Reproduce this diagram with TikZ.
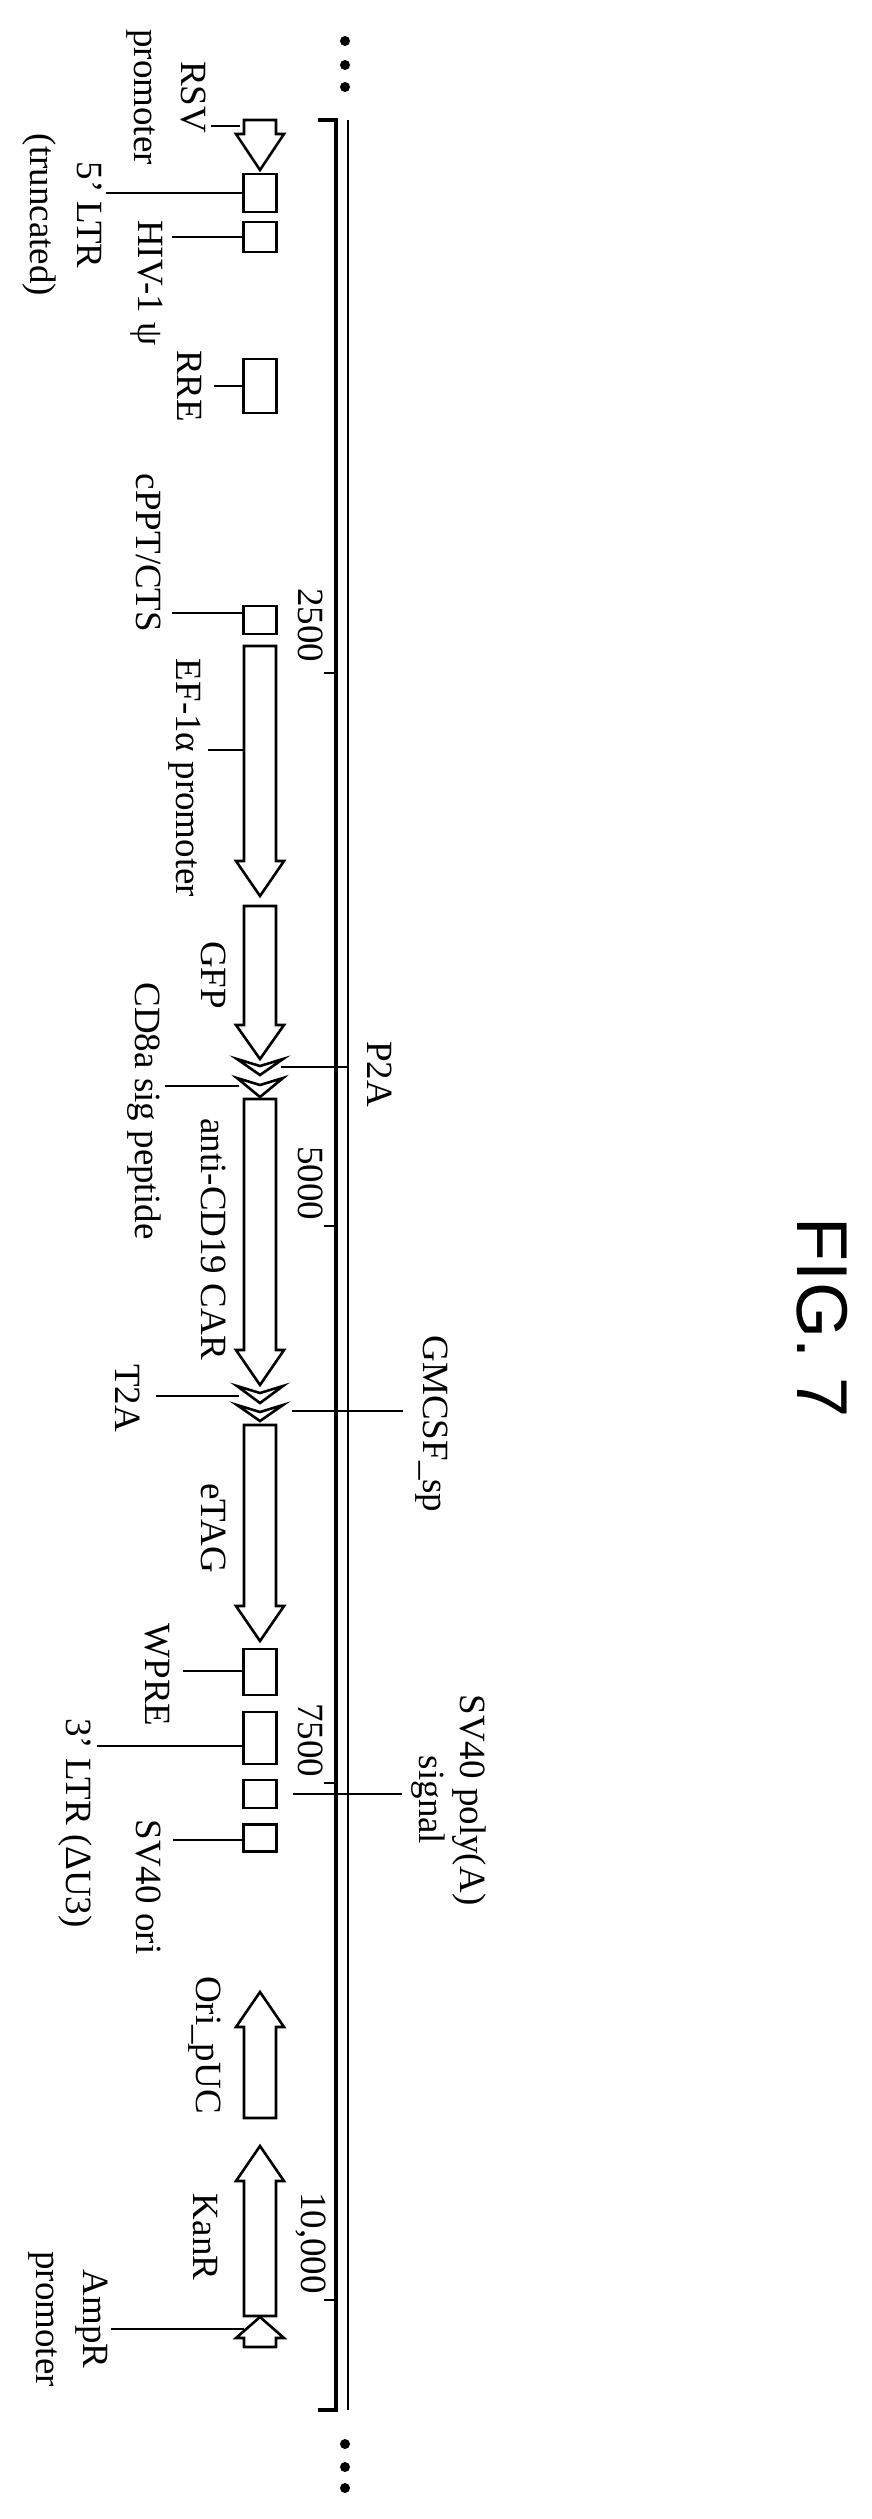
\documentclass[tikz,border=0pt]{standalone}
\usepackage{fontspec}
\setmainfont{Liberation Serif}
\newfontfamily\figfont{Liberation Sans}
\begin{document}
\begin{tikzpicture}[x=1pt,y=-1pt,
  lbl/.style={rotate=-90,align=center,inner sep=0,font=\fontsize{37}{47}\selectfont},
  fea/.style={draw,line width=2.6pt,fill=white,line join=miter},
  box/.style={draw,line width=2.6pt,inner sep=0,minimum width=33pt},
  lead/.style={line width=2.4pt},
  tick/.style={line width=2.4pt}]
\useasboundingbox (0,0) rectangle (871,2519);
\newcommand{\mydarrow}[3]{\draw[fea] (244,#1)--(276,#1)--(276,#2)--(284,#2)--(260,#3)--(236,#2)--(244,#2)--cycle;}
\newcommand{\myuarrow}[3]{\draw[fea] (244,#1)--(276,#1)--(276,#2)--(284,#2)--(260,#3)--(236,#2)--(244,#2)--cycle;}
\newcommand{\mychev}[2]{\draw[fea] (237,#1)--(260,#1+7)--(283,#1)--(260,#2)--cycle;}
% dots
\foreach \yy in {41,65,87,2444,2467,2488} \fill (345,\yy) circle (5);
% main line
\draw[line width=4.5pt] (318,120) -- (336,120) -- (336,2410) -- (318,2410);
\draw[line width=2.6pt] (348,120) -- (348,2410);
% ticks
\foreach \yy/\tx in {673/2500,1226/5000,1783/7500,2300/{10,000}} {
  \draw[tick] (324,\yy) -- (336,\yy);
}
\node[lbl] (t1) at (311,625) {2500};
\node[lbl] (t2) at (311,1183) {5000};
\node[lbl] (t3) at (311,1740) {7500};
\node[lbl] (t4) at (311,2243) {10,000};
% features
\mydarrow{120}{134}{170}
\coordinate (rsv) at (240,126);
\node[box,minimum height=38pt] (ltr5) at (260,193) {};
\node[box,minimum height=30pt] (psi) at (260,237) {};
\node[box,minimum height=54pt] (rre) at (260,386) {};
\node[box,minimum height=28pt] (cppt) at (260,620) {};
\mydarrow{646}{861}{896}
\coordinate (ef) at (244,750);
\mydarrow{906}{1025}{1059}
\mychev{1059}{1075}
\mychev{1078}{1097}
\mydarrow{1099}{1350}{1385}
\mychev{1386}{1403}
\mychev{1405}{1421}
\mydarrow{1425}{1606}{1641}
\node[box,minimum height=46pt] (wpre) at (260,1672) {};
\node[box,minimum height=52pt] (ltr3) at (260,1738) {};
\node[box,minimum height=28pt] (pa) at (260,1794) {};
\node[box,minimum height=27pt] (ori) at (260,1838) {};
\myuarrow{2118}{2027}{1992}
\myuarrow{2316}{2181}{2146}
\myuarrow{2347}{2338}{2317}
% leaders
\coordinate (rsvL) at (211,126);
\draw[lead] (rsv) -- (rsvL);
\coordinate (ltr5L) at (106,193);
\draw[lead] (ltr5.west) -- (ltr5L);
\coordinate (psiL) at (172,237);
\draw[lead] (psi.west) -- (psiL);
\coordinate (rreL) at (214,386);
\draw[lead] (rre.west) -- (rreL);
\coordinate (cpptL) at (172,613);
\draw[lead] (cppt.west |- cpptL) -- (cpptL);
\coordinate (efL) at (208,750);
\draw[lead] (ef) -- (efL);
\coordinate (p2aA) at (281,1067); \coordinate (p2aB) at (347,1067);
\draw[lead] (p2aA) -- (p2aB);
\coordinate (cd8A) at (239,1086); \coordinate (cd8B) at (165,1086);
\draw[lead] (cd8A) -- (cd8B);
\coordinate (t2aA) at (239,1396); \coordinate (t2aB) at (156,1396);
\draw[lead] (t2aA) -- (t2aB);
\coordinate (gmA) at (292,1411); \coordinate (gmB) at (403,1411);
\draw[lead] (gmA) -- (gmB);
\coordinate (wpreL) at (183,1671);
\draw[lead] (wpre.west |- wpreL) -- (wpreL);
\coordinate (ltr3L) at (97,1746);
\draw[lead] (ltr3.west |- ltr3L) -- (ltr3L);
\coordinate (paA) at (293,1794); \coordinate (paB) at (402,1794);
\draw[lead] (paA) -- (paB);
\coordinate (oriL) at (173,1840);
\draw[lead] (ori.west |- oriL) -- (oriL);
\coordinate (ampA) at (244,2329); \coordinate (ampB) at (111,2329);
\draw[lead] (ampA) -- (ampB);
% labels
\node[lbl] (l1) at (166,97) {RSV\\promoter};
\node[lbl] (l2) at (62,215) {5’ LTR\\(truncated)};
\node[lbl] (l3) at (147,283) {HIV-1 ψ};
\node[lbl] (l4) at (190,386) {RRE};
\node[lbl] (l5) at (149,553) {cPPT/CTS};
\node[lbl] (l6) at (185,778) {EF-1α promoter};
\node[lbl] (l7) at (214,975) {GFP};
\node[lbl] (l8) at (380,1074) {P2A};
\node[lbl] (l9) at (144,1111) {CD8a sig peptide};
\node[lbl] (l10) at (214,1239) {anti-CD19 CAR};
\node[lbl] (l11) at (432,1424) {GMCSF\_sp};
\node[lbl] (l12) at (128,1398) {T2A};
\node[lbl] (l13) at (214,1528) {eTAG};
\node[lbl] (l14) at (157,1675) {WPRE};
\node[lbl] (l15) at (75,1823) {3’ LTR (ΔU3)};
\node[lbl] (l16) at (469,1800) {SV40 poly(A)};
\node[lbl] (l16b) at (428,1800) {signal};
\node[lbl] (l17) at (149,1887) {SV40 ori};
\node[lbl] (l18) at (205,2045) {Ori\_pUC};
\node[lbl] (l19) at (205,2237) {KanR};
\node[lbl] (l20) at (68,2319) {AmpR\\promoter};
\node[rotate=-90,inner sep=0,font=\figfont\fontsize{72}{80}\selectfont] (fig) at (822,1318) {FIG. 7};
\end{tikzpicture}
\end{document}
